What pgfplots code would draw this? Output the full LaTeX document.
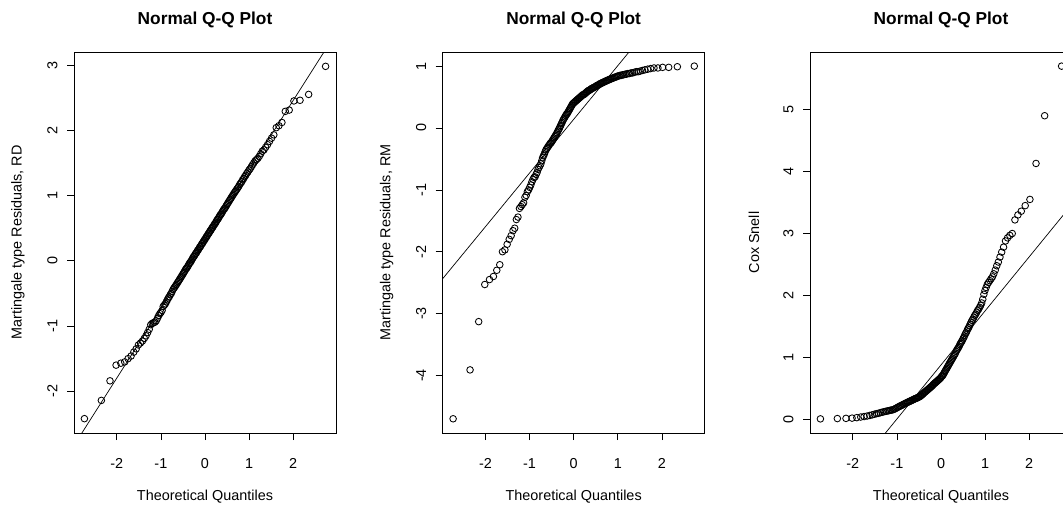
\documentclass[border=0pt]{standalone}
\usepackage{pgfplots}
\pgfplotsset{compat=1.18}
\usepackage{pgfplotstable}
\usepackage{fontspec}
\setmainfont{Liberation Sans}
\pgfplotstableread{
x a b c
-2.734 -2.42 -4.70 0.010
-2.350 -2.14 -3.91 0.015
-2.154 -1.84 -3.13 0.018
-2.016 -1.60 -2.53 0.022
-1.909 -1.57 -2.45 0.030
-1.820 -1.55 -2.40 0.040
-1.744 -1.50 -2.30 0.048
-1.676 -1.46 -2.21 0.056
-1.615 -1.40 -2.00 0.065
-1.560 -1.35 -1.97 0.075
-1.509 -1.29 -1.88 0.085
-1.462 -1.26 -1.80 0.094
-1.418 -1.23 -1.74 0.100
-1.376 -1.19 -1.66 0.110
-1.337 -1.15 -1.62 0.117
-1.300 -1.10 -1.48 0.123
-1.264 -1.05 -1.44 0.130
-1.230 -0.98 -1.30 0.135
-1.197 -0.96 -1.27 0.140
-1.166 -0.95 -1.24 0.146
-1.136 -0.94 -1.21 0.150
-1.106 -0.92 -1.12 0.155
-1.077 -0.88 -1.09 0.160
-1.050 -0.84 -1.03 0.170
-1.023 -0.81 -1.00 0.180
-0.997 -0.79 -0.96 0.190
-0.972 -0.76 -0.92 0.200
-0.947 -0.70 -0.87 0.210
-0.923 -0.68 -0.83 0.220
-0.899 -0.66 -0.80 0.225
-0.876 -0.63 -0.79 0.235
-0.853 -0.60 -0.75 0.245
-0.831 -0.57 -0.72 0.250
-0.809 -0.55 -0.67 0.260
-0.787 -0.52 -0.64 0.267
-0.765 -0.50 -0.61 0.275
-0.745 -0.47 -0.58 0.280
-0.724 -0.44 -0.53 0.290
-0.704 -0.42 -0.48 0.295
-0.684 -0.40 -0.45 0.300
-0.665 -0.38 -0.42 0.310
-0.645 -0.36 -0.38 0.315
-0.626 -0.34 -0.35 0.320
-0.607 -0.32 -0.33 0.330
-0.589 -0.30 -0.31 0.335
-0.570 -0.28 -0.29 0.340
-0.552 -0.26 -0.27 0.345
-0.533 -0.24 -0.25 0.350
-0.515 -0.22 -0.24 0.360
-0.497 -0.20 -0.22 0.365
-0.480 -0.18 -0.20 0.370
-0.462 -0.16 -0.18 0.380
-0.445 -0.14 -0.16 0.390
-0.428 -0.12 -0.14 0.400
-0.411 -0.11 -0.12 0.410
-0.394 -0.09 -0.10 0.425
-0.377 -0.07 -0.08 0.435
-0.360 -0.05 -0.05 0.445
-0.344 -0.03 -0.03 0.455
-0.327 -0.02 -0.01 0.465
-0.311 0.00 0.02 0.475
-0.294 0.02 0.04 0.485
-0.278 0.04 0.07 0.495
-0.262 0.06 0.09 0.505
-0.246 0.07 0.12 0.515
-0.230 0.09 0.14 0.525
-0.214 0.11 0.16 0.535
-0.197 0.12 0.18 0.545
-0.181 0.14 0.20 0.560
-0.166 0.16 0.22 0.570
-0.150 0.17 0.23 0.580
-0.134 0.19 0.25 0.590
-0.118 0.21 0.27 0.600
-0.102 0.22 0.29 0.610
-0.086 0.24 0.31 0.620
-0.071 0.26 0.33 0.630
-0.055 0.27 0.35 0.640
-0.039 0.29 0.37 0.650
-0.024 0.31 0.39 0.660
-0.008 0.32 0.40 0.670
0.008 0.34 0.41 0.690
0.024 0.36 0.42 0.700
0.039 0.37 0.43 0.710
0.055 0.39 0.44 0.730
0.071 0.41 0.45 0.750
0.086 0.42 0.46 0.770
0.102 0.44 0.47 0.790
0.118 0.46 0.48 0.810
0.134 0.47 0.49 0.830
0.150 0.49 0.50 0.850
0.166 0.51 0.51 0.870
0.181 0.52 0.52 0.890
0.197 0.54 0.53 0.910
0.214 0.56 0.54 0.930
0.230 0.57 0.54 0.950
0.246 0.59 0.55 0.970
0.262 0.61 0.56 0.990
0.278 0.63 0.57 1.010
0.294 0.64 0.58 1.030
0.311 0.66 0.59 1.050
0.327 0.68 0.60 1.070
0.344 0.70 0.61 1.100
0.360 0.71 0.61 1.120
0.377 0.73 0.62 1.140
0.394 0.75 0.63 1.160
0.411 0.77 0.64 1.180
0.428 0.79 0.64 1.210
0.445 0.80 0.65 1.230
0.462 0.82 0.66 1.250
0.480 0.84 0.66 1.270
0.497 0.86 0.67 1.300
0.515 0.88 0.68 1.320
0.533 0.90 0.69 1.350
0.552 0.92 0.69 1.380
0.570 0.94 0.70 1.400
0.589 0.96 0.71 1.430
0.607 0.98 0.72 1.460
0.626 1.00 0.72 1.480
0.645 1.02 0.73 1.510
0.665 1.04 0.74 1.540
0.684 1.06 0.74 1.570
0.704 1.08 0.75 1.600
0.724 1.10 0.76 1.620
0.745 1.12 0.76 1.650
0.765 1.14 0.77 1.680
0.787 1.17 0.78 1.700
0.809 1.19 0.78 1.730
0.831 1.21 0.79 1.760
0.853 1.24 0.80 1.780
0.876 1.26 0.80 1.810
0.899 1.29 0.81 1.840
0.923 1.31 0.82 1.880
0.947 1.34 0.82 1.940
0.972 1.36 0.83 2.020
0.997 1.39 0.84 2.080
1.023 1.41 0.84 2.130
1.050 1.44 0.85 2.180
1.077 1.47 0.85 2.210
1.106 1.50 0.86 2.240
1.136 1.53 0.86 2.270
1.166 1.55 0.87 2.300
1.197 1.57 0.87 2.350
1.230 1.60 0.88 2.410
1.264 1.64 0.88 2.480
1.300 1.68 0.89 2.540
1.337 1.70 0.89 2.620
1.376 1.74 0.90 2.700
1.418 1.78 0.91 2.780
1.462 1.83 0.91 2.880
1.509 1.88 0.92 2.930
1.560 1.93 0.93 2.970
1.615 2.04 0.94 3.000
1.676 2.07 0.95 3.220
1.744 2.12 0.96 3.300
1.820 2.29 0.97 3.360
1.909 2.31 0.97 3.450
2.016 2.45 0.98 3.550
2.154 2.46 0.98 4.130
2.350 2.55 0.99 4.900
2.734 2.98 1.00 5.700
}\qqdata
\pgfplotsset{
  qq/.style={
    scale only axis, width=262pt, height=381pt,
    xmin=-2.97, xmax=2.97,
    xtick={-2,-1,0,1,2}, xticklabels={-2,-1,0,1,2},
    xtick pos=lower, ytick pos=left,
    tick align=outside, major tick length=7pt,
    every tick/.style={black, line width=0.7pt},
    axis line style={black, line width=0.8pt},
    tick label style={font=\fontsize{14.4}{16}\selectfont, text=black},
    xticklabel style={anchor=north},
    xticklabel shift=15pt,
    yticklabel style={rotate=90, anchor=south},
    yticklabel shift=6pt,
    every axis title shift=0pt,
    title style={font=\bfseries\fontsize{17.3}{20}\selectfont, at={(axis description cs:0.5,1.083)}, anchor=center},
    xlabel style={font=\fontsize{14.4}{16}\selectfont, at={(axis description cs:0.5,-0.168)}, anchor=center},
    ylabel style={font=\fontsize{14.4}{16}\selectfont, at={(axis description cs:-0.2137,0.5)}, anchor=center},
    title={Normal Q-Q Plot},
    xlabel={Theoretical Quantiles},
    clip=true,
  },
  pts/.style={only marks, mark=o, mark size=3.3pt, mark options={black, line width=0.85pt}},
  ql/.style={black, line width=0.7pt, no marks},
}
\begin{document}
\begin{tikzpicture}
\path[use as bounding box] (0pt,0pt) rectangle (1063pt,-504pt);
\begin{axis}[qq, at={(74pt,-52pt)}, anchor=north west,
  ymin=-2.64, ymax=3.2, ytick={-2,-1,0,1,2,3}, yticklabels={-2,-1,0,1,2,3},
  ylabel={Martingale type Residuals, RD}]
  \addplot[pts] table[x=x, y=a] {\qqdata};
  \addplot[ql] coordinates {(-3.5,-3.394) (3.5,4.054)};
\end{axis}
\begin{axis}[qq, at={(442.7pt,-52pt)}, anchor=north west,
  ymin=-4.93, ymax=1.228, ytick={-4,-3,-2,-1,0,1}, yticklabels={-4,-3,-2,-1,0,1},
  ylabel={Martingale type Residuals, RM}]
  \addplot[pts] table[x=x, y=b] {\qqdata};
  \addplot[ql] coordinates {(-3.5,-2.895) (3.5,3.175)};
\end{axis}
\begin{axis}[qq, at={(810pt,-52pt)}, anchor=north west,
  ymin=-0.218, ymax=5.928, ytick={0,1,2,3,4,5}, yticklabels={0,1,2,3,4,5},
  ylabel={Cox Snell}]
  \addplot[pts] table[x=x, y=c] {\qqdata};
  \addplot[ql] coordinates {(-3.5,-2.172) (3.5,3.932)};
\end{axis}
\end{tikzpicture}
\end{document}
